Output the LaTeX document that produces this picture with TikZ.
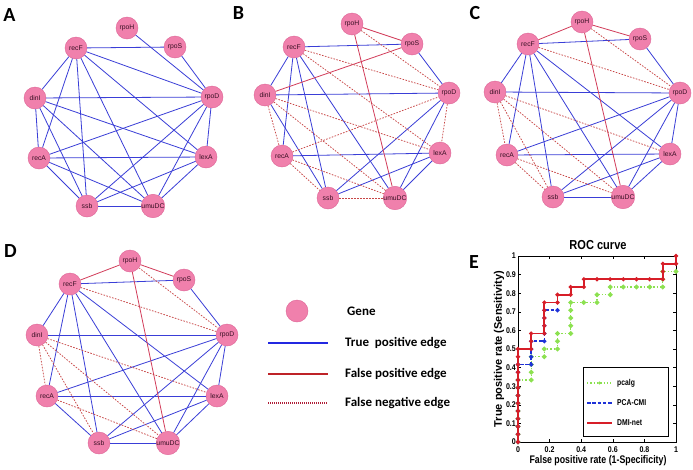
\documentclass[tikz,border=0pt]{standalone}
\usepackage{fontspec}
\usetikzlibrary{calc}
\setmainfont{Liberation Sans}
\newfontfamily\carl{Carlito}
\definecolor{genefill}{RGB}{240,128,172}
\definecolor{genedraw}{RGB}{222,100,150}
\definecolor{genetext}{RGB}{55,15,35}
\definecolor{tpblue}{RGB}{58,62,215}
\definecolor{fpred}{RGB}{210,60,90}
\definecolor{fnred}{RGB}{200,70,70}
\definecolor{legblue}{RGB}{35,40,225}
\definecolor{legred}{RGB}{190,35,40}
\definecolor{legdot}{RGB}{175,30,55}
\definecolor{rocred}{RGB}{215,30,40}
\definecolor{rocblue}{RGB}{30,50,215}
\definecolor{rocgreen}{RGB}{140,225,80}
\tikzset{
  gene/.style={circle, minimum size=22pt, inner sep=0pt, fill=genefill, draw=genedraw, line width=0.4pt,
    text=genetext, font=\fontsize{6.8}{7}\selectfont},
  tp/.style={draw=tpblue, line width=0.8pt},
  fp/.style={draw=fpred, line width=0.8pt},
  fn/.style={draw=fnred, line width=0.75pt, dash pattern=on 1.6pt off 1.4pt},
  plabel/.style={font=\carl\bfseries\fontsize{20}{20}\selectfont, inner sep=0pt},
  legtext/.style={font=\carl\bfseries\fontsize{13}{13}\selectfont, anchor=west, inner sep=0pt},
  roctick/.style={font=\bfseries\fontsize{8.3}{8.3}\selectfont, inner sep=0pt},
  rocleg/.style={font=\bfseries\fontsize{8.5}{8.5}\selectfont, anchor=west, inner sep=0pt}
}
\newcommand\genes[2]{%
  \foreach \nm/\p in {#2} {\node[gene] (#1-\nm) at (\p) {\nm};}}
\begin{document}
\begin{tikzpicture}[x=1pt,y=-1pt]
\useasboundingbox[fill=white] (0,0) rectangle (693,469);

% ---------- Panel A ----------
\genes{a}{rpoH/{127,28}, rpoS/{175,47}, recF/{76,48}, rpoD/{212,97}, dinI/{35,98}, recA/{39,158}, lexA/{206,157}, ssb/{87,206}, umuDC/{153,206}}
\foreach \u/\v in {rpoH/rpoD, recF/rpoS, rpoS/rpoD, recF/rpoD, recF/dinI, recF/recA, recF/ssb, recF/umuDC, recF/lexA, dinI/rpoD, dinI/recA, dinI/ssb, dinI/umuDC, dinI/lexA, recA/rpoD, recA/lexA, recA/ssb, recA/umuDC, ssb/rpoD, ssb/lexA, ssb/umuDC, umuDC/rpoD, umuDC/lexA, rpoD/lexA}
  \draw[tp] (a-\u) -- (a-\v);
\node[plabel] (labA) at (9.5,15) {A};

% ---------- Panel B ----------
\genes{b}{rpoH/{352,24}, rpoS/{412,44}, recF/{294,47}, rpoD/{449,93}, dinI/{265,95}, recA/{282,156}, lexA/{440,153}, ssb/{328,198}, umuDC/{395,198}}
\foreach \u/\v in {recF/rpoS, rpoS/rpoD, recF/dinI, recF/recA, recF/ssb, recF/umuDC, dinI/rpoD, dinI/ssb, recA/lexA, ssb/rpoD, ssb/lexA, umuDC/rpoD, umuDC/lexA}
  \draw[tp] (b-\u) -- (b-\v);
\foreach \u/\v in {rpoH/rpoS, rpoH/umuDC, rpoS/dinI}
  \draw[fp] (b-\u) -- (b-\v);
\foreach \u/\v in {rpoH/rpoD, recF/rpoD, recF/lexA, dinI/lexA, dinI/umuDC, dinI/recA, recA/rpoD, recA/ssb, recA/umuDC, ssb/umuDC, rpoD/lexA}
  \draw[fn] (b-\u) -- (b-\v);
\node[plabel] (labB) at (238.5,13.5) {B};

% ---------- Panel C ----------
\genes{c}{rpoH/{582,22}, rpoS/{640,39}, recF/{528,44}, rpoD/{680,93}, dinI/{495,92}, recA/{507,155}, lexA/{670,154}, ssb/{553,197}, umuDC/{623,197}}
\foreach \u/\v in {recF/rpoS, rpoS/rpoD, recF/dinI, recF/recA, recF/ssb, recF/umuDC, recF/lexA, dinI/rpoD, recA/rpoD, recA/lexA, ssb/rpoD, ssb/lexA, ssb/umuDC, umuDC/rpoD, umuDC/lexA, rpoD/lexA}
  \draw[tp] (c-\u) -- (c-\v);
\foreach \u/\v in {recF/rpoH, rpoH/rpoS, rpoH/umuDC}
  \draw[fp] (c-\u) -- (c-\v);
\foreach \u/\v in {rpoH/rpoD, recF/rpoD, dinI/lexA, dinI/recA, dinI/ssb, dinI/umuDC, recA/ssb, recA/umuDC}
  \draw[fn] (c-\u) -- (c-\v);
\node[plabel] (labC) at (475,13) {C};

% ---------- Panel D ----------
\genes{d}{rpoH/{130,261}, rpoS/{184,280}, recF/{70,284}, rpoD/{227,335}, dinI/{37,335}, recA/{47,396}, lexA/{217,396}, ssb/{99,443}, umuDC/{168,443}}
\foreach \u/\v in {recF/rpoS, rpoS/rpoD, recF/dinI, recF/recA, recF/ssb, recF/umuDC, recF/lexA, dinI/rpoD, recA/rpoD, recA/lexA, recA/ssb, ssb/rpoD, ssb/lexA, ssb/umuDC, umuDC/rpoD, umuDC/lexA, rpoD/lexA}
  \draw[tp] (d-\u) -- (d-\v);
\foreach \u/\v in {recF/rpoH, rpoH/rpoS, rpoH/umuDC}
  \draw[fp] (d-\u) -- (d-\v);
\foreach \u/\v in {rpoH/rpoD, recF/rpoD, dinI/lexA, dinI/recA, dinI/ssb, dinI/umuDC, recA/umuDC}
  \draw[fn] (d-\u) -- (d-\v);
\node[plabel] (labD) at (10.5,251.5) {D};

% ---------- Legend ----------
\node[gene] (leggene) at (297,311) {};
\node[legtext] (tgene) at (347,311) {Gene};
\coordinate (l1a) at (268,343); \coordinate (l1b) at (328,343);
\coordinate (l2a) at (268,374); \coordinate (l2b) at (328,374);
\coordinate (l3a) at (268,403); \coordinate (l3b) at (328,403);
\draw[legblue, line width=1.4pt] (l1a) -- (l1b);
\draw[legred, line width=1.4pt] (l2a) -- (l2b);
\draw[legdot, line width=1.1pt, dash pattern=on 1pt off 1pt] (l3a) -- (l3b);
\node[legtext] (ttp) at (345,343) {True\ \ positive edge};
\node[legtext] (tfp) at (345,374) {False positive edge};
\node[legtext] (tfn) at (345,403) {False negative edge};

% ---------- Panel E: ROC ----------
\node[plabel] (labE) at (474,262) {E};
\node[font=\bfseries\fontsize{13}{13}\selectfont, inner sep=0pt] (title) at (598,245) {\scalebox{0.85}[1]{ROC curve}};
\node[font=\bfseries\fontsize{11}{11}\selectfont, inner sep=0pt] (xlab) at (598,461) {\scalebox{0.8}[1]{False positive rate (1-Specificity)}};
\node[font=\bfseries\fontsize{11}{11}\selectfont, inner sep=0pt, rotate=90] (ylab) at (499,349) {True positive rate (Sensitivity)};
\begin{scope}[shift={(518,442)}, x=13.1667pt, y=7.75pt]
  \draw[black, line width=0.5pt] (0,0) rectangle (12,24);
  \foreach \t/\lab in {0/0, 2.4/0.2, 4.8/0.4, 7.2/0.6, 9.6/0.8, 12/1} {
    \draw[line width=0.4pt] (\t,0) -- ++(0,0.4);
    \draw[line width=0.4pt] (\t,24) -- ++(0,-0.4);
    \node[roctick, anchor=north] (xt\t) at (\t,-0.6) {\scalebox{0.85}[1]{\lab}};
  }
  \foreach \t/\lab in {0/0, 2.4/0.1, 4.8/0.2, 7.2/0.3, 9.6/0.4, 12/0.5, 14.4/0.6, 16.8/0.7, 19.2/0.8, 21.6/0.9, 24/1} {
    \draw[line width=0.4pt] (0,\t) -- ++(0.25,0);
    \draw[line width=0.4pt] (12,\t) -- ++(-0.25,0);
    \node[roctick, anchor=east] (yt\t) at (-0.15,\t) {\scalebox{0.85}[1]{\lab}};
  }
  % pcalg
  \draw[rocgreen, line width=1.3pt, dotted, mark=*, mark size=1.7pt, mark options={solid}] plot coordinates {(0,0)(0,1)(0,2)(0,3)(0,4)(0,5)(0,6)(0,7)(0,8)(1,8)(1,9)(1,10)(1,11)(2,11)(2,12)(3,12)(3,13)(3,14)(4,14)(4,15)(4,16)(4,17)(4,18)(5,18)(6,18)(6,19)(7,19)(7,20)(8,20)(9,20)(10,20)(11,20)(11,21)(11,22)(12,22)};
  % PCA-CMI
  \draw[rocblue, line width=1.6pt, dash pattern=on 3.5pt off 1.8pt, mark=*, mark size=1.2pt, mark options={solid}] plot coordinates {(0,0)(0,1)(0,2)(0,3)(0,4)(0,5)(0,6)(0,7)(0,8)(0,9)(0,10)(1,10)(1,11)(1,12)(1,13)(2,13)(2,14)(2,15)(2,16)(2,17)(3,17)};
  % DMI-net
  \draw[rocred, line width=1.7pt, mark=*, mark size=1.1pt] plot coordinates {(0,0)(0,1)(0,2)(0,3)(0,4)(0,5)(0,6)(0,7)(0,8)(0,9)(0,10)(0,11)(0,12)(1,12)(1,13)(1,14)(2,14)(2,15)(2,16)(2,17)(2,18)(3,18)(3,19)(4,19)(4,20)(5,20)(5,21)(6,21)(7,21)(8,21)(9,21)(10,21)(11,21)(11,22)(11,23)(12,23)(12,24)};
\end{scope}
% ROC legend
\node[draw=black, line width=0.5pt, fill=white, minimum width=85pt, minimum height=69pt, inner sep=0pt] (legbox) at (625.5,401.5) {};
\coordinate (g1) at (587,383); \coordinate (g2) at (612,383);
\coordinate (b1) at (587,403); \coordinate (b2) at (612,403);
\coordinate (r1) at (587,423); \coordinate (r2) at (612,423);
\draw[rocgreen, line width=1.3pt, dotted] (g1) -- (g2);
\fill[rocgreen] ($(g1)!0.5!(g2)$) circle (1.7pt);
\draw[rocblue, line width=1.6pt, dash pattern=on 3.5pt off 1.8pt] (b1) -- (b2);
\fill[rocblue] ($(b1)!0.5!(b2)$) circle (1.2pt);
\draw[rocred, line width=1.7pt] (r1) -- (r2);
\fill[rocred] ($(r1)!0.5!(r2)$) circle (1.1pt);
\node[rocleg] (lg1) at (617,383) {\scalebox{0.8}[1]{pcalg}};
\node[rocleg] (lg2) at (617,403) {\scalebox{0.8}[1]{PCA-CMI}};
\node[rocleg] (lg3) at (617,423) {\scalebox{0.8}[1]{DMI-net}};
\end{tikzpicture}
\end{document}
